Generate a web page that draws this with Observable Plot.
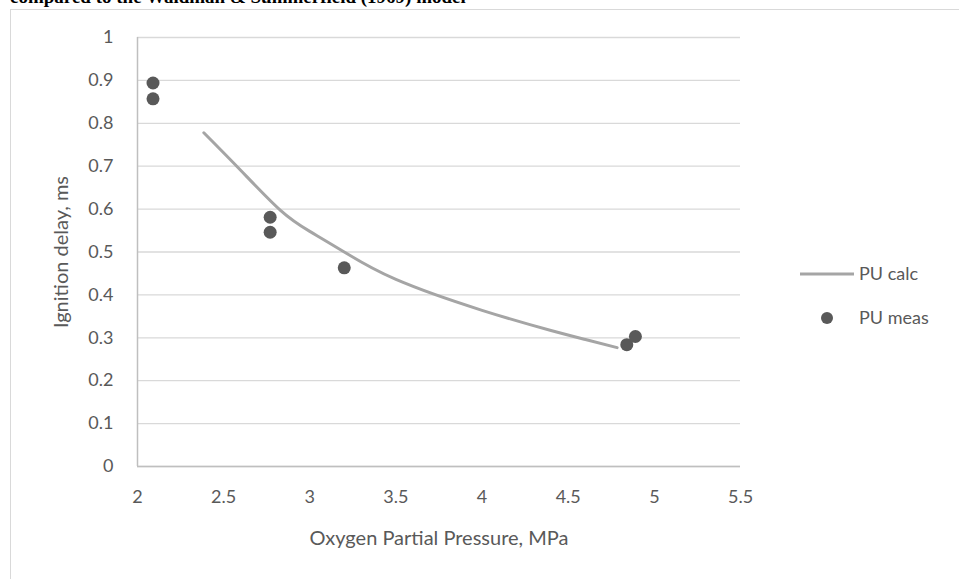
<!DOCTYPE html>
<html>
<head>
<meta charset="utf-8">
<script src="https://cdn.jsdelivr.net/npm/d3@7"></script>
<script src="https://cdn.jsdelivr.net/npm/@observablehq/plot@0.6"></script>
<style>
  html, body { margin: 0; padding: 0; background: #fff; overflow: hidden; }
  #wrap { position: relative; width: 959px; height: 579px; overflow: hidden; }
  #frame { position: absolute; left: 10px; top: 9px; width: 1200px; height: 1200px;
           border-left: 1.5px solid #d9d9d9; border-top: 1.5px solid #d9d9d9; box-sizing: border-box; }
  #title { position: absolute; left: 10px; top: -13px; font-family: "Liberation Serif", serif;
           font-weight: bold; font-size: 19px; line-height: 19px; color: #000; white-space: nowrap; }
  #chart { position: absolute; left: 0; top: 0; }
  .leg { position: absolute; font-family: Lato, sans-serif; font-size: 18px; line-height: 22px; color: #595959; white-space: nowrap; }
</style>
</head>
<body>
<div id="wrap">
  <div id="frame"></div>
  <div id="title">compared to the Waldman &amp; Summerfield (1969) model</div>
  <div id="chart"></div>
  <div id="legend"></div>
</div>
<script>
// Tick values
const xTicks = [2, 2.5, 3, 3.5, 4, 4.5, 5, 5.5];
const yTicks = [0, 0.1, 0.2, 0.3, 0.4, 0.5, 0.6, 0.7, 0.8, 0.9, 1];

// Series: PU calc (model curve)
const calcPressure = [2.385, 2.6, 2.83, 3.0, 3.2, 3.5, 4.0, 4.4, 4.6, 4.784];
const calcDelay    = [0.778, 0.690, 0.597, 0.548, 0.500, 0.436, 0.364, 0.317, 0.296, 0.277];

// Series: PU meas (measured points)
const measPressure = [2.09, 2.09, 2.77, 2.77, 3.2, 4.84, 4.89];
const measDelay    = [0.894, 0.857, 0.581, 0.546, 0.463, 0.284, 0.303];

const seriesNames = ["PU calc", "PU meas"];

const calc = calcPressure.map((p, i) => ({p, t: calcDelay[i]}));
const meas = measPressure.map((p, i) => ({p, t: measDelay[i]}));

const chart = Plot.plot({
  width: 959,
  height: 579,
  marginLeft: 137,
  marginRight: 219,
  marginTop: 37,
  marginBottom: 113,
  style: { fontFamily: "Lato, sans-serif", fontSize: "18px", color: "#595959", background: "transparent", overflow: "visible" },
  x: { domain: [2, 5.5] },
  y: { domain: [0, 1] },
  marks: [
    Plot.gridY(yTicks, { stroke: "#d9d9d9", strokeOpacity: 1, strokeWidth: 1.3 }),
    Plot.axisY(yTicks, {
      tickSize: 0, tickPadding: 24, fontSize: 18,
      tickFormat: d => String(+d.toFixed(1)),
      label: "Ignition delay, ms", labelAnchor: "center", labelArrow: "none", labelOffset: 84
    }),
    Plot.axisX(xTicks, {
      tickSize: 0, tickPadding: 24, fontSize: 18,
      tickFormat: d => String(d),
      label: "Oxygen Partial Pressure, MPa", labelAnchor: "center", labelArrow: "none", labelOffset: 78
    }),
    Plot.ruleY([0], { stroke: "#bfbfbf", strokeWidth: 1.5 }),
    Plot.ruleX([2], { stroke: "#bfbfbf", strokeWidth: 1.5 }),
    Plot.line(calc, { x: "p", y: "t", curve: "natural", stroke: "#a5a5a5", strokeWidth: 3 }),
    Plot.dot(meas, { x: "p", y: "t", r: 6.5, fill: "#595959", stroke: "none" })
  ]
});
// enlarge axis titles
chart.querySelectorAll('[aria-label="y-axis label"] text, [aria-label="x-axis label"] text').forEach(t => t.setAttribute("font-size", "20"));
document.getElementById("chart").appendChild(chart);

// Legend
const legend = document.getElementById("legend");
legend.innerHTML = `
  <svg style="position:absolute;left:0;top:0;overflow:visible" width="959" height="579">
    <line x1="800" x2="854" y1="274" y2="274" stroke="#a5a5a5" stroke-width="3"/>
    <circle cx="827" cy="318" r="6" fill="#595959"/>
  </svg>
  <div class="leg" style="left:859px;top:262px">${seriesNames[0]}</div>
  <div class="leg" style="left:859px;top:306px">${seriesNames[1]}</div>`;
</script>
</body>
</html>
